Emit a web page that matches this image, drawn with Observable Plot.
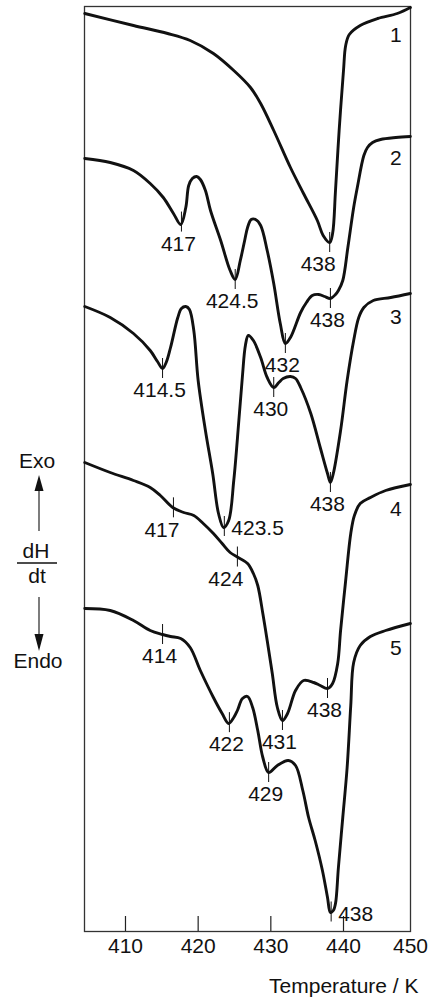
<!DOCTYPE html>
<html>
<head>
<meta charset="utf-8">
<script src="https://cdn.jsdelivr.net/npm/d3@7"></script>
<script src="https://cdn.jsdelivr.net/npm/@observablehq/plot@0.6"></script>
<style>
  body { margin: 0; background: #fff; }
  #wrap { position: relative; width: 432px; height: 1007px; }
  #wrap svg.ann { position: absolute; left: 0; top: 0; }
</style>
</head>
<body>
<div id="wrap"></div>
<script>
// ---------- data ----------
const curveNames = ["1", "2", "3", "4", "5"];

// temperature (K) and dH/dt (arbitrary, curves offset vertically; larger = exo/up)
const temp1 = [404.4, 411.1, 415.8, 418.9, 422.1, 424.9, 427.2, 428.6, 430.4, 432.7, 434.5, 436.4, 437.2, 438.1, 438.5, 438.9, 439.4, 440.0, 440.3, 440.8, 442.3, 444.7, 447.4, 449.2];
const dhdt1 = [918, 906, 898, 891, 878, 861, 844, 828, 801, 764, 738, 711, 696, 689, 698, 741, 801, 861, 886, 897, 906, 913, 918, 924];

const temp2 = [404.4, 407.9, 411.1, 413.4, 415.2, 416.6, 417.6, 418.3, 418.7, 419.2, 419.8, 420.3, 421.0, 421.7, 423.1, 424.4, 425.1, 425.8, 426.4, 426.8, 427.3, 427.9, 428.6, 429.5, 430.4, 431.3, 432.0, 432.7, 434.1, 434.9, 435.7, 436.6, 437.4, 438.2, 438.9, 439.3, 439.9, 440.6, 441.4, 441.9, 442.8, 443.3, 444.0, 445.1, 447.2, 449.2];
const dhdt2 = [773, 769, 761, 748, 734, 718, 707, 724, 746, 753, 755, 752, 741, 721, 691, 661, 652, 671, 691, 704, 712, 712, 706, 681, 648, 608, 588, 594, 619, 629, 636, 637, 635, 633, 637, 641, 651, 684, 724, 744, 776, 784, 789, 792, 794, 795];

const temp3 = [404.4, 407.9, 411.1, 413.4, 414.4, 415.1, 415.6, 416.2, 417.2, 417.7, 418.3, 418.8, 419.4, 420.0, 421.0, 422.0, 422.8, 423.5, 424.2, 424.9, 425.6, 426.1, 426.5, 426.9, 427.6, 428.6, 429.5, 430.4, 431.1, 431.7, 432.7, 433.4, 434.1, 435.5, 436.8, 437.8, 438.2, 438.6, 439.6, 440.5, 441.4, 442.1, 442.8, 444.1, 446.5, 449.2];
const dhdt3 = [625, 614, 598, 581, 570, 563, 569, 584, 614, 623, 625, 622, 601, 551, 501, 458, 418, 404, 411, 451, 511, 556, 586, 596, 591, 574, 554, 544, 549, 553, 555, 553, 544, 518, 484, 458, 449, 458, 501, 551, 591, 614, 624, 631, 634, 638];

const temp4 = [404.4, 407.9, 411.1, 413.4, 414.8, 416.5, 418.0, 419.4, 420.7, 422.1, 423.3, 424.4, 425.5, 426.8, 427.6, 428.2, 428.9, 429.5, 430.2, 430.9, 431.6, 432.3, 433.4, 434.5, 435.9, 436.8, 437.8, 438.5, 439.2, 439.6, 440.3, 441.0, 441.5, 442.3, 443.7, 445.8, 449.2];
const dhdt4 = [469, 459, 451, 444, 436, 424, 419, 416, 408, 398, 388, 379, 374, 368, 358, 346, 318, 291, 258, 224, 211, 218, 241, 251, 249, 246, 243, 248, 268, 301, 351, 398, 416, 428, 434, 441, 447];

const temp5 = [404.4, 407.9, 411.1, 413.4, 415.1, 416.2, 417.6, 418.9, 420.3, 422.1, 423.3, 424.2, 424.9, 425.4, 426.1, 426.8, 427.5, 428.2, 428.9, 429.7, 430.9, 432.4, 433.4, 434.4, 435.2, 436.1, 437.1, 437.8, 438.2, 438.6, 438.9, 439.3, 439.9, 440.5, 441.0, 441.4, 442.3, 443.7, 445.8, 449.2];
const dhdt5 = [323, 321, 311, 301, 297, 295, 293, 284, 261, 234, 218, 208, 214, 221, 233, 235, 224, 201, 174, 159, 166, 171, 166, 141, 114, 91, 61, 34, 19, 21, 28, 64, 114, 164, 226, 269, 286, 295, 301, 308];

// marked peaks: which curve, where the marker sits, printed value, label placement
const peakCurve = [1, 2, 2, 2, 2, 3, 3, 3, 3, 4, 4, 4, 4, 5, 5, 5, 5];
const peakTemp  = [438.1, 417.7, 425.1, 432.0, 438.2, 415.1, 423.6, 430.4, 438.2, 416.6, 425.4, 431.6, 437.8, 415.1, 424.3, 429.7, 438.3];
const peakLabel = ["438", "417", "424.5", "432", "438", "414.5", "423.5", "430", "438", "417", "424", "431", "438", "414", "422", "429", "438"];
const peakSide  = ["below-left", "below", "below", "below", "below", "below", "right", "below", "below", "below-left", "below-left", "below", "below", "below", "below", "below", "right"];

const xTickValues = [410, 420, 430, 440, 450];
const xTitle = "Temperature / K";

// ---------- build ----------
const curves = [
  {t: temp1, v: dhdt1}, {t: temp2, v: dhdt2}, {t: temp3, v: dhdt3},
  {t: temp4, v: dhdt4}, {t: temp5, v: dhdt5}
];
const rows = [];
curves.forEach((c, i) => c.t.forEach((t, j) => rows.push({curve: curveNames[i], t, v: c.v[j]})));

function valueAt(ci, t) {
  const T = curves[ci].t, V = curves[ci].v;
  for (let k = 1; k < T.length; k++) {
    if (t <= T[k]) {
      const f = (t - T[k - 1]) / (T[k] - T[k - 1]);
      return V[k - 1] + f * (V[k] - V[k - 1]);
    }
  }
  return V[V.length - 1];
}
const peakRows = peakTemp.map((t, i) => ({
  t, label: peakLabel[i], side: peakSide[i], v: valueAt(peakCurve[i] - 1, t)
}));
const xDomain = [404.36, 449.22];
const curveLabelRows = curveNames.map((name, i) => ({name, t: 447.2, v: valueAt(i, 447.2)}));

const FONT = "'Liberation Sans', Arial, sans-serif";
const ink = "#111";

const chart = Plot.plot({
  width: 432,
  height: 1007,
  marginLeft: 84,
  marginRight: 22,
  marginTop: 6,
  marginBottom: 76,
  style: {fontFamily: FONT, fontSize: "21px", color: ink, background: "#fff"},
  x: {domain: xDomain, axis: null},
  y: {domain: [0, 925], axis: null},
  marks: [
    Plot.frame({stroke: "#333", strokeWidth: 1.3}),
    Plot.tickX(xTickValues.filter(d => d < xDomain[1]), {x: d => d, insetTop: 925 - 15, stroke: "#222", strokeWidth: 1.2}),
    Plot.line(rows, {x: "t", y: "v", z: "curve", curve: "catmull-rom", stroke: ink, strokeWidth: 2.9, strokeLinejoin: "round"}),
    Plot.ruleX(peakRows, {x: "t", y1: d => d.v + 10, y2: d => d.v - 10, stroke: ink, strokeWidth: 1}),
    Plot.text(peakRows.filter(d => d.side === "below"), {x: "t", y: "v", dy: 22, dx: -3, text: "label", fill: ink, fontSize: 21}),
    Plot.text(peakRows.filter(d => d.side === "below-left"), {x: "t", y: "v", dy: 22, dx: 6, textAnchor: "end", text: "label", fill: ink, fontSize: 21}),
    Plot.text(peakRows.filter(d => d.side === "right"), {x: "t", y: "v", dy: 2, dx: 7, textAnchor: "start", text: "label", fill: ink, fontSize: 21}),
    Plot.text(curveLabelRows, {x: "t", y: "v", dy: 21, text: "name", fill: ink, fontSize: 21}),
    Plot.text(xTickValues, {x: d => Math.min(d, xDomain[1]), frameAnchor: "bottom", dy: 21, text: d => String(d), fill: ink, fontSize: 21}),
    Plot.text([xTitle], {frameAnchor: "bottom-right", dx: 8, dy: 61, textAnchor: "end", text: d => d, fill: ink, fontSize: 21})
  ]
});

const wrap = document.getElementById("wrap");
wrap.appendChild(chart);

// Exo / dH/dt / Endo annotation to the left of the frame
const ann = `
<svg class="ann" width="84" height="1007" xmlns="http://www.w3.org/2000/svg" font-family="${FONT}" font-size="21" fill="${ink}">
  <text x="37" y="462" text-anchor="middle" dominant-baseline="middle">Exo</text>
  <polygon points="39,475 34.5,491 43.5,491" fill="${ink}"/>
  <line x1="39" y1="490" x2="39" y2="531" stroke="${ink}" stroke-width="1.1"/>
  <text x="36" y="552" text-anchor="middle" dominant-baseline="middle">dH</text>
  <line x1="17" y1="563" x2="57" y2="563" stroke="${ink}" stroke-width="1.4"/>
  <text x="37" y="577" text-anchor="middle" dominant-baseline="middle">dt</text>
  <line x1="39" y1="597" x2="39" y2="635" stroke="${ink}" stroke-width="1.1"/>
  <polygon points="39,651 34.5,634 43.5,634" fill="${ink}"/>
  <text x="38" y="662" text-anchor="middle" dominant-baseline="middle">Endo</text>
</svg>`;
wrap.insertAdjacentHTML("beforeend", ann);
</script>
</body>
</html>
